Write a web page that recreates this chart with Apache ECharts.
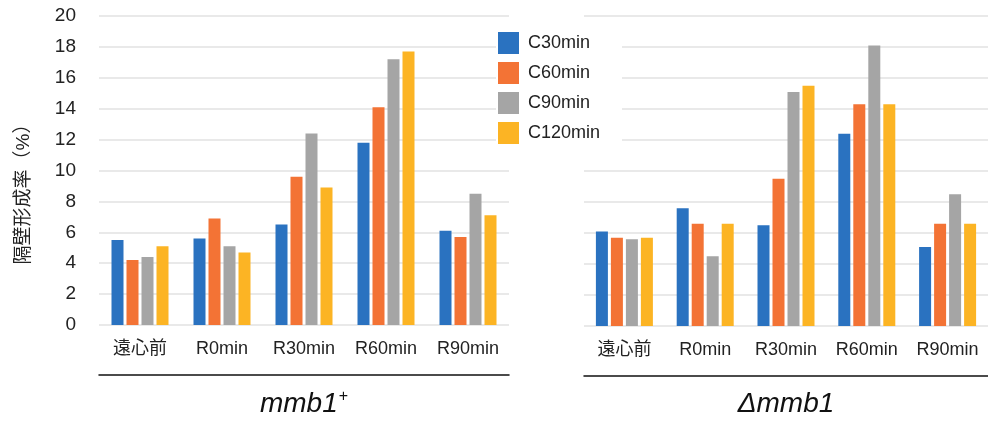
<!DOCTYPE html>
<html><head><meta charset="utf-8">
<script src="https://cdn.jsdelivr.net/npm/echarts@6/dist/echarts.min.js"></script>
<style>html,body{margin:0;padding:0;background:#fff}#c{width:988px;height:423px}</style>
</head><body><div id="c"></div>
<script>
const categories = ['遠心前', 'R0min', 'R30min', 'R60min', 'R90min'];
const seriesNames = ['C30min', 'C60min', 'C90min', 'C120min'];
const colors = ['#2A72C0', '#F37335', '#A5A5A5', '#FCB424'];
// mmb1+ (left)
const leftC30  = [5.5, 5.6, 6.5, 11.8, 6.1];
const leftC60  = [4.2, 6.9, 9.6, 14.1, 5.7];
const leftC90  = [4.4, 5.1, 12.4, 17.2, 8.5];
const leftC120 = [5.1, 4.7, 8.9, 17.7, 7.1];
// Δmmb1 (right)
const rightC30  = [6.1, 7.6, 6.5, 12.4, 5.1];
const rightC60  = [5.7, 6.6, 9.5, 14.3, 6.6];
const rightC90  = [5.6, 4.5, 15.1, 18.1, 8.5];
const rightC120 = [5.7, 6.6, 15.5, 14.3, 6.6];
const yTicks = [0, 2, 4, 6, 8, 10, 12, 14, 16, 18, 20];
const yName = '隔壁形成率（%）';

const FONT = '"Liberation Sans", Arial, "Noto Sans CJK JP", sans-serif';
const leftData = [leftC30, leftC60, leftC90, leftC120];
const rightData = [rightC30, rightC60, rightC90, rightC120];

const chart = echarts.init(document.getElementById('c'), null, {renderer: 'canvas'});

function catAxis(gi) {
  return {
    type: 'category', gridIndex: gi, data: categories,
    axisLine: {show: false}, axisTick: {show: false},
    axisLabel: {color: '#222', fontSize: 18, fontFamily: FONT, margin: 15}
  };
}
function groupAxis(gi, name) {
  return {
    type: 'category', gridIndex: gi, data: categories, position: 'bottom', offset: 50,
    axisLine: {show: true, lineStyle: {color: '#111', width: 1.5}},
    axisTick: {show: false}, axisLabel: {show: false}, splitLine: {show: false},
    name: name, nameLocation: 'middle', nameGap: 14,
    nameTextStyle: {
      rich: {
        i: {fontSize: 28, fontStyle: 'italic', fontFamily: FONT, color: '#111'},
        s: {fontSize: 16, fontFamily: FONT, color: '#111', verticalAlign: 'top', padding: [0, 0, 14, 1]}
      }
    }
  };
}
function valAxis(gi, showLabels) {
  return {
    type: 'value', gridIndex: gi, min: yTicks[0], max: yTicks[yTicks.length - 1], interval: 2,
    axisLine: {show: false}, axisTick: {show: false},
    axisLabel: {show: showLabels, color: '#222', fontSize: 19, fontFamily: FONT, margin: 23},
    splitLine: {lineStyle: {color: '#E2E2E2', width: 1.5}},
    name: showLabels ? yName : '', nameLocation: 'middle', nameRotate: 90, nameGap: 66,
    nameTextStyle: {color: '#222', fontSize: 19, fontFamily: FONT, padding: [0, 38, 0, 0]}
  };
}

const series = [];
seriesNames.forEach((n, k) => {
  series.push({
    name: n, type: 'bar', xAxisIndex: 0, yAxisIndex: 0, data: leftData[k],
    barWidth: 12, barGap: '25%', itemStyle: {color: colors[k]}
  });
});
seriesNames.forEach((n, k) => {
  series.push({
    name: n, type: 'bar', xAxisIndex: 2, yAxisIndex: 1, data: rightData[k],
    barWidth: 12, barGap: '25%', itemStyle: {color: colors[k]}
  });
});

chart.setOption({
  animation: false,
  backgroundColor: '#fff',
  textStyle: {fontFamily: FONT},
  grid: [
    {left: 99, width: 410, top: 16, bottom: 96},
    {left: 584, right: 0, top: 16, bottom: 96}
  ],
  xAxis: [catAxis(0), groupAxis(0, '{i|mmb1}{s|+}'), catAxis(1), groupAxis(1, '{i|Δmmb1}')],
  yAxis: [valAxis(0, true), valAxis(1, false)],
  legend: {
    data: seriesNames, orient: 'vertical', left: 496, top: 30,
    icon: 'rect', itemWidth: 21, itemHeight: 22, itemGap: 8,
    backgroundColor: '#fff', padding: [2, 22, 12, 2], z: 10,
    textStyle: {color: '#222', fontSize: 18, fontFamily: FONT, padding: [0, 0, 0, 4]}
  },
  series: series
});
</script></body></html>
